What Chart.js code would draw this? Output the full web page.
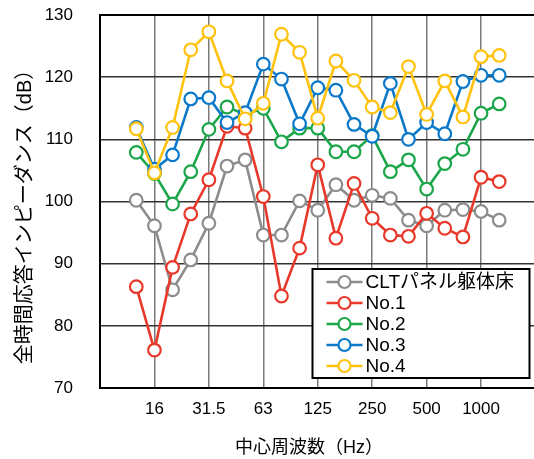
<!DOCTYPE html>
<html>
<head>
<meta charset="utf-8">
<script src="https://cdn.jsdelivr.net/npm/chart.js@4"></script>
<style>
  html, body { margin: 0; padding: 0; background: #fff; overflow: hidden; }
  #wrap { width: 534px; height: 459px; overflow: hidden; }
  #chart { width: 544px; height: 459px; display: block; }
</style>
</head>
<body>
<div id="wrap"><canvas id="chart" width="544" height="459"></canvas></div>
<script>
// ===== データ =====
const freqs = ['12.5', '16', '20', '25', '31.5', '40', '50', '63', '80', '100', '125',
               '160', '200', '250', '315', '400', '500', '630', '800', '1000', '1250'];
const tickLabels = ['16', '31.5', '63', '125', '250', '500', '1000'];
const yTicks = [70, 80, 90, 100, 110, 120, 130];

const seriesNames = ['CLTパネル躯体床', 'No.1', 'No.2', 'No.3', 'No.4'];
const seriesColors = ['#8c8c8c', '#e8382a', '#1ca64a', '#0b79c9', '#ffc20e'];

const cltValues = [100.2, 96.1, 85.8, 90.6, 96.5, 105.7, 106.7, 94.6, 94.6, 100.1, 98.6,
                   102.7, 100.2, 101.0, 100.5, 97.0, 96.1, 98.6, 98.7, 98.4, 97.0];
const no1Values = [86.3, 76.1, 89.4, 98.0, 103.5, 112.1, 111.8, 100.8, 84.8, 92.5, 105.9,
                   94.1, 102.9, 97.3, 94.6, 94.4, 98.1, 95.7, 94.3, 103.9, 103.2];
const no2Values = [107.9, 104.5, 99.6, 104.8, 111.6, 115.2, 114.0, 115.0, 109.6, 111.8, 111.8,
                   108.0, 108.0, 110.6, 104.8, 106.7, 102.0, 106.1, 108.4, 114.2, 115.7];
const no3Values = [111.9, 105.2, 107.5, 116.5, 116.7, 112.7, 114.3, 122.1, 119.7, 112.5, 118.3,
                   117.9, 112.4, 110.5, 119.0, 110.0, 112.7, 110.9, 119.3, 120.3, 120.3];
const no4Values = [111.7, 104.6, 111.9, 124.4, 127.3, 119.4, 113.3, 115.8, 126.9, 124.0, 113.4,
                   122.6, 119.5, 115.2, 114.3, 121.7, 114.0, 119.4, 113.6, 123.3, 123.5];

const allValues = [cltValues, no1Values, no2Values, no3Values, no4Values];

// ===== 設定 =====
const tickFont = { family: "'Liberation Sans', 'Noto Sans CJK JP', sans-serif", size: 17 };
const cjkFont = "'Liberation Sans', 'Noto Sans CJK JP', sans-serif";

const datasets = allValues.map((vals, i) => ({
    label: seriesNames[i],
    data: vals.map((v, j) => ({ x: j, y: v })),
    borderColor: seriesColors[i],
    backgroundColor: '#fff',
    borderWidth: 2.6,
    pointRadius: 6.3,
    pointBorderWidth: 2.2,
    pointBackgroundColor: '#fff',
    pointBorderColor: seriesColors[i],
    order: allValues.length - 1 - i
}));

// 軸タイトル
const axisTitles = {
    id: 'axisTitles',
    afterDraw(chart) {
        const ctx = chart.ctx;
        ctx.save();
        ctx.fillStyle = '#000';
        ctx.textAlign = 'center';
        ctx.textBaseline = 'middle';
        ctx.font = `18px ${cjkFont}`;
        ctx.fillText('中心周波数（Hz）', 309, 448);
        ctx.translate(25, 212);
        ctx.rotate(-Math.PI / 2);
        ctx.font = `20px ${cjkFont}`;
        ctx.fillText('全時間応答インピーダンス（dB）', 0, 0);
        ctx.restore();
    }
};

// 凡例（グラフ内右下）
const boxLegend = {
    id: 'boxLegend',
    afterDraw(chart) {
        const ctx = chart.ctx;
        const area = chart.chartArea;
        const right = area.right - 6, bottom = area.bottom - 10;
        const left = right - 217, top = bottom - 109;
        ctx.save();
        ctx.fillStyle = '#fff';
        ctx.fillRect(left, top, right - left, bottom - top);
        ctx.strokeStyle = '#000';
        ctx.lineWidth = 2;
        ctx.strokeRect(left, top, right - left, bottom - top);
        ctx.font = `19px ${cjkFont}`;
        ctx.textAlign = 'left';
        ctx.textBaseline = 'middle';
        chart.data.datasets.forEach((ds, i) => {
            const y = top + 13 + i * 21;
            ctx.strokeStyle = ds.borderColor;
            ctx.lineWidth = 2.6;
            ctx.beginPath();
            ctx.moveTo(left + 14, y);
            ctx.lineTo(left + 50, y);
            ctx.stroke();
            ctx.beginPath();
            ctx.arc(left + 32, y, 6, 0, Math.PI * 2);
            ctx.fillStyle = '#fff';
            ctx.fill();
            ctx.lineWidth = 2.2;
            ctx.stroke();
            ctx.fillStyle = '#000';
            ctx.fillText(ds.label, left + 53, y + 1);
        });
        ctx.restore();
    }
};

const chart = new Chart(document.getElementById('chart'), {
    type: 'line',
    data: { datasets: datasets },
    options: {
        responsive: false,
        animation: false,
        layout: { padding: { left: 0, top: 15, right: 0, bottom: 0 } },
        plugins: {
            legend: { display: false },
            tooltip: { enabled: false }
        },
        scales: {
            x: {
                type: 'linear',
                min: -2,
                max: 22,
                afterBuildTicks: (scale) => {
                    scale.ticks = tickLabels.map(t => ({ value: freqs.indexOf(t) }));
                },
                afterFit: (scale) => {
                    scale.height = 71;
                    scale.paddingLeft = 0;
                    scale.paddingRight = 0;
                },
                ticks: {
                    autoSkip: false,
                    maxRotation: 0,
                    padding: 11,
                    color: '#000',
                    font: tickFont,
                    callback: (v) => freqs[v]
                },
                grid: { color: '#7a7a7a', lineWidth: 1.5, drawTicks: false },
                border: { color: '#000', width: 2 }
            },
            y: {
                min: 70,
                max: 130,
                afterBuildTicks: (scale) => {
                    scale.ticks = yTicks.map(v => ({ value: v }));
                },
                afterFit: (scale) => {
                    scale.width = 100;
                    scale.paddingTop = 0;
                    scale.paddingBottom = 0;
                },
                ticks: {
                    padding: 27,
                    color: '#000',
                    font: tickFont
                },
                grid: {
                    color: (c) => (c.tick && c.tick.value === 130 ? '#000' : '#333'),
                    lineWidth: (c) => (c.tick && c.tick.value === 130 ? 2 : 1.5),
                    drawTicks: false
                },
                border: { color: '#000', width: 2 }
            }
        }
    },
    plugins: [axisTitles, boxLegend]
});
</script>
</body>
</html>
